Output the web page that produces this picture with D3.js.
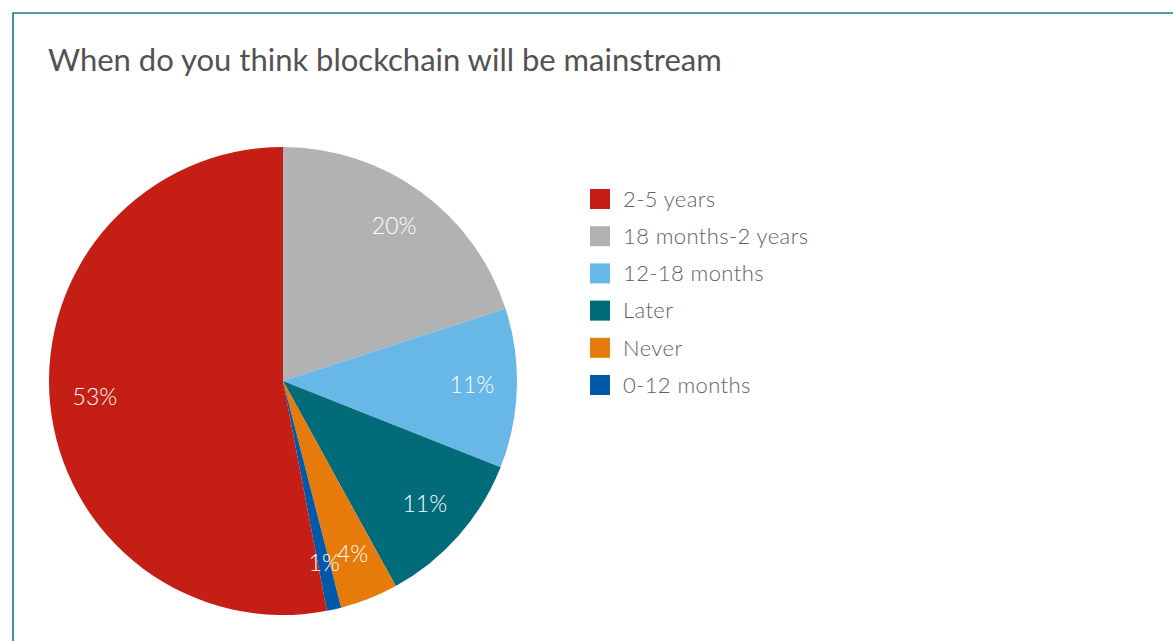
<!DOCTYPE html>
<html>
<head>
<meta charset="utf-8">
<script src="https://cdn.jsdelivr.net/npm/d3@7"></script>
<style>
  html, body { margin: 0; padding: 0; background: #fff; }
  svg { display: block; }
</style>
</head>
<body>
<div id="chart"></div>
<script>
// Survey answers, in drawing order (clockwise from 12 o'clock)
const categories = ["18 months-2 years", "12-18 months", "Later", "Never", "0-12 months", "2-5 years"];
const values = [20, 11, 11, 4, 1, 53];
const colors = ["#b1b2b3", "#67b8e6", "#016b79", "#e67b0b", "#0059a8", "#c41e15"];
// Legend order
const legendOrder = ["2-5 years", "18 months-2 years", "12-18 months", "Later", "Never", "0-12 months"];

const W = 1173, H = 641;
const svg = d3.select("#chart").append("svg").attr("width", W).attr("height", H);

// Frame lines (top and left)
svg.append("line").attr("x1", 12.5).attr("y1", 13).attr("x2", W).attr("y2", 13)
  .attr("stroke", "#17788a").attr("stroke-width", 1.6);
svg.append("line").attr("x1", 13).attr("y1", 13).attr("x2", 13).attr("y2", H)
  .attr("stroke", "#17788a").attr("stroke-width", 1.6);

// Title
svg.append("text")
  .attr("x", 48).attr("y", 71)
  .attr("font-family", "Lato, 'Noto Sans', sans-serif")
  .attr("font-size", 31)
  .attr("fill", "#525252")
  .text("When do you think blockchain will be mainstream");

const color = d3.scaleOrdinal().domain(categories).range(colors);

const cx = 283, cy = 381, R = 234;
const data = categories.map((c, i) => ({ name: c, value: values[i] }));
const pie = d3.pie().value(d => d.value).sort(null);
const arcs = pie(data);
const arc = d3.arc().innerRadius(0).outerRadius(R);
const labelArc = d3.arc().innerRadius(189).outerRadius(189);

const g = svg.append("g").attr("transform", `translate(${cx},${cy})`);
g.selectAll("path").data(arcs).join("path")
  .attr("d", arc)
  .attr("fill", d => color(d.data.name));

g.selectAll("text.lbl").data(arcs).join("text")
  .attr("class", "lbl")
  .attr("transform", d => `translate(${labelArc.centroid(d)})`)
  .attr("text-anchor", "middle")
  .attr("dy", "0.25em")
  .attr("font-family", "Lato, 'Noto Sans', sans-serif")
  .attr("font-weight", 300)
  .attr("font-size", 23)
  .attr("fill", "#ffffff")
  .text(d => d.data.value + "%");

// Legend
const legY = d3.scalePoint().domain(legendOrder).range([199, 385]);
const leg = svg.append("g");
const rows = leg.selectAll("g").data(legendOrder).join("g")
  .attr("transform", d => `translate(590,${legY(d)})`);
rows.append("rect")
  .attr("x", 0).attr("y", -10).attr("width", 20).attr("height", 20)
  .attr("fill", d => color(d));
rows.append("text")
  .attr("x", 33).attr("y", 0).attr("dy", "0.35em")
  .attr("font-family", "Lato, 'Noto Sans', sans-serif")
  .attr("font-weight", 300)
  .attr("font-size", 22)
  .attr("letter-spacing", 0.4)
  .attr("fill", "#626262")
  .text(d => d);
</script>
</body>
</html>
